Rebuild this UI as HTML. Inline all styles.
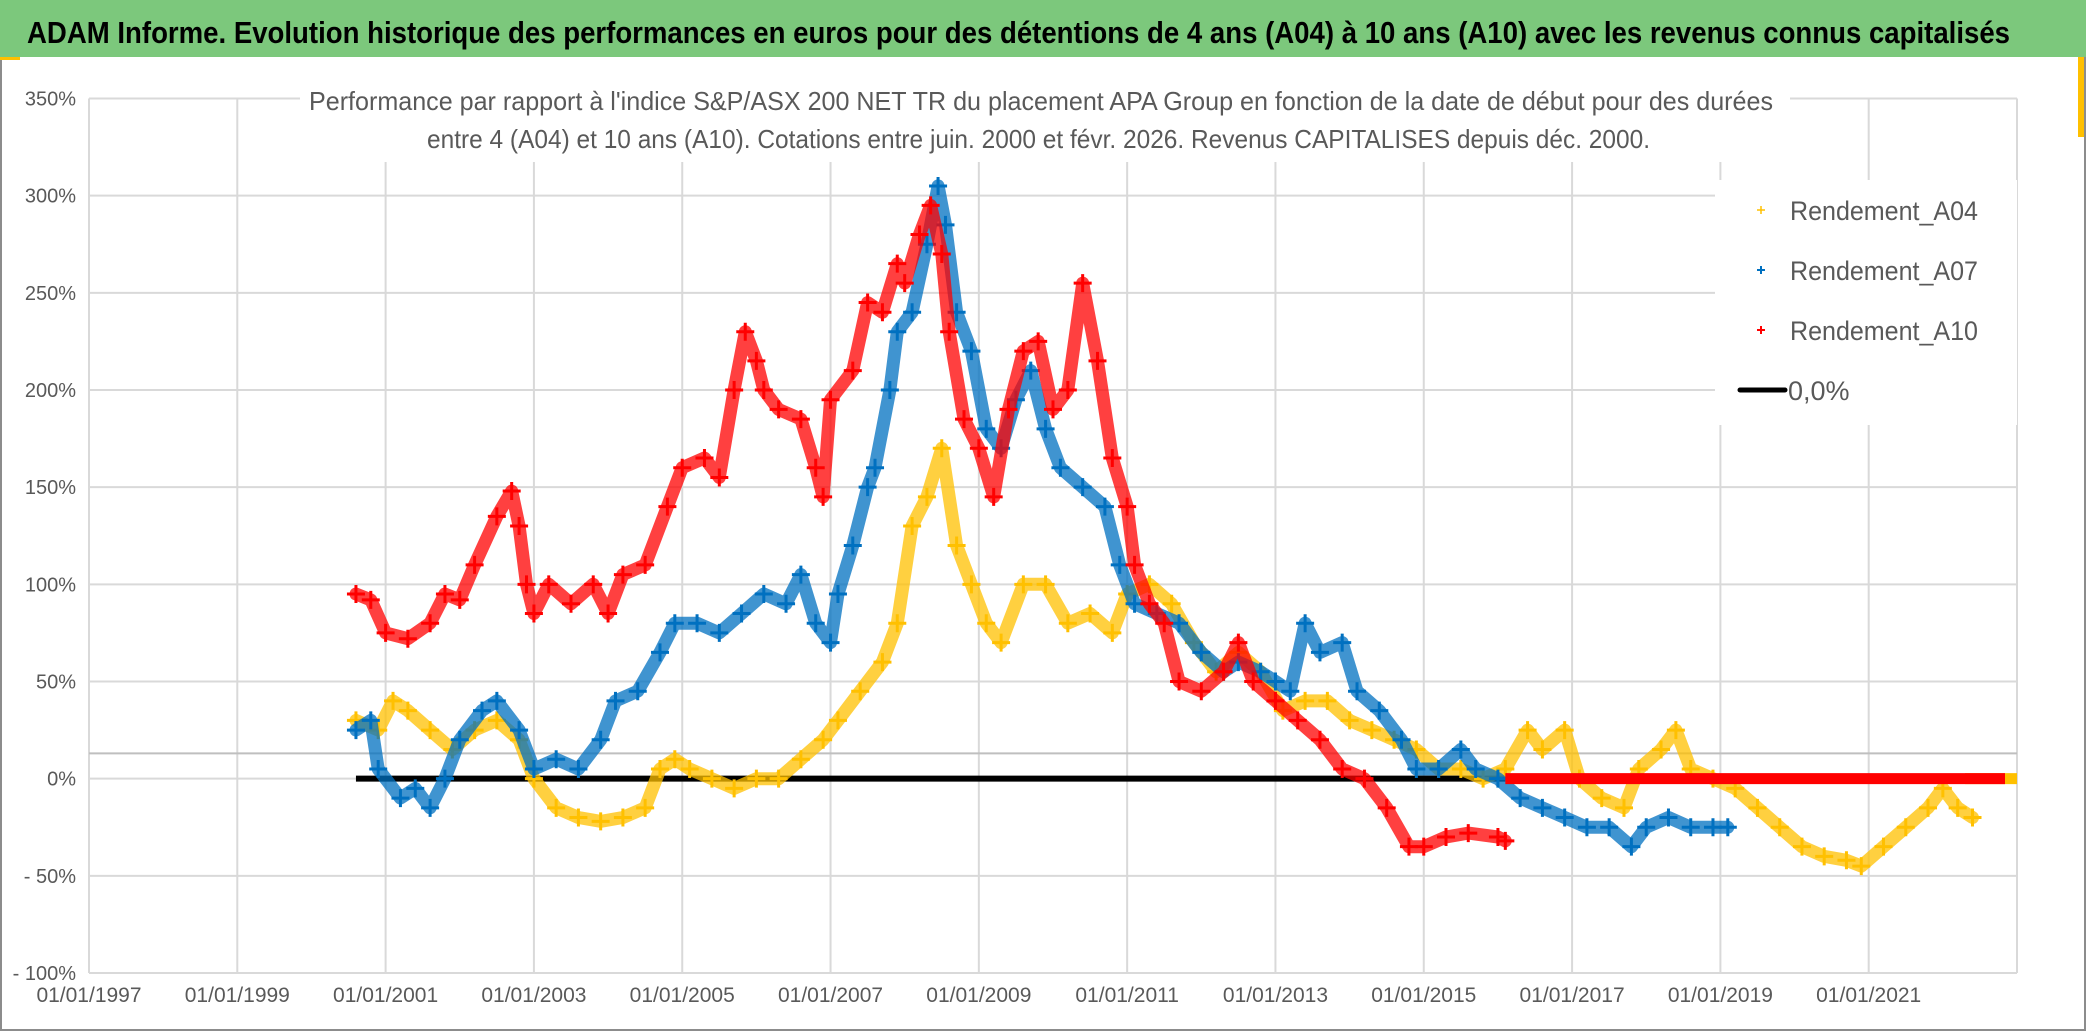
<!DOCTYPE html>
<html><head><meta charset="utf-8">
<style>
html,body{margin:0;padding:0;background:#fff;}
body{width:2086px;height:1031px;overflow:hidden;}
svg{display:block;}
text{font-family:"Liberation Sans Narrow","Liberation Sans",sans-serif;}
</style></head>
<body>
<svg id="chart" width="2086" height="1031" viewBox="0 0 2086 1031" xmlns="http://www.w3.org/2000/svg">
  <rect x="0" y="0" width="2086" height="1031" fill="#fff"/>
  <rect x="1" y="1" width="2084" height="1029" fill="none" stroke="#8c8c8c" stroke-width="2"/>
  <rect x="0" y="0" width="2086" height="57" fill="#7cc87c"/>
  <rect x="0" y="57" width="20" height="3" fill="#ffc000"/>
  <rect x="2078" y="57" width="6" height="80" fill="#ffc000"/>
  <text x="27" y="43" font-size="31" font-weight="bold" fill="#000" textLength="1983" lengthAdjust="spacingAndGlyphs">ADAM Informe. Evolution historique des performances en euros pour des détentions de 4 ans (A04) à 10 ans (A10) avec les revenus connus capitalisés</text>
  <g id="grid"></g>
  <g id="axes"></g>
  <g id="series"></g>
  <rect x="300" y="80" width="1490" height="82" fill="#fff"/>
  <text x="309" y="110" font-size="26" fill="#595959" textLength="1464" lengthAdjust="spacingAndGlyphs">Performance par rapport à l'indice S&amp;P/ASX 200 NET TR  du placement APA Group en fonction de la date de début pour des durées</text>
  <text x="427" y="148" font-size="26" fill="#595959" textLength="1223" lengthAdjust="spacingAndGlyphs">entre 4 (A04) et 10 ans (A10). Cotations entre juin. 2000 et févr. 2026. Revenus CAPITALISES depuis déc. 2000.</text>
  <g>
    <rect x="1715" y="180" width="302" height="245" fill="#fff"/>
    <g>
      <path d="M1757 210h8M1761 206v8" stroke="#ffc000" stroke-width="1.5"/>
      <text x="1790" y="220" font-size="27" fill="#595959" textLength="188" lengthAdjust="spacingAndGlyphs">Rendement_A04</text>
    </g>
    <g>
      <path d="M1757 270h8M1761 266v8" stroke="#0070c0" stroke-width="2"/>
      <text x="1790" y="280" font-size="27" fill="#595959" textLength="188" lengthAdjust="spacingAndGlyphs">Rendement_A07</text>
    </g>
    <g>
      <path d="M1757 330h8M1761 326v8" stroke="#ff0000" stroke-width="2"/>
      <text x="1790" y="340" font-size="27" fill="#595959" textLength="188" lengthAdjust="spacingAndGlyphs">Rendement_A10</text>
    </g>
    <g>
      <path d="M1740 390h45" stroke="#000" stroke-width="5" stroke-linecap="round"/>
      <text x="1788" y="400" font-size="27" fill="#595959">0,0%</text>
    </g>
  </g>
</svg>
<script>
const yTicks = [350,300,250,200,150,100,50,0,-50,-100];
const yTickLabels = ["350%","300%","250%","200%","150%","100%","50%","0%","- 50%","- 100%"];
const xTicks = [1997,1999,2001,2003,2005,2007,2009,2011,2013,2015,2017,2019,2021,2023];
const xTickLabels = ["01/01/1997","01/01/1999","01/01/2001","01/01/2003","01/01/2005","01/01/2007","01/01/2009","01/01/2011","01/01/2013","01/01/2015","01/01/2017","01/01/2019","01/01/2021",""];
const refLineValue = 13;

const a10Dates = [2000.6,2000.8,2001.0,2001.3,2001.6,2001.8,2002.0,2002.2,2002.5,2002.7,2002.8,2002.9,2003.0,2003.2,2003.5,2003.8,2004.0,2004.2,2004.5,2004.8,2005.0,2005.3,2005.5,2005.7,2005.85,2006.0,2006.1,2006.3,2006.6,2006.8,2006.9,2007.0,2007.3,2007.5,2007.7,2007.9,2008.0,2008.2,2008.35,2008.5,2008.6,2008.8,2009.0,2009.2,2009.4,2009.6,2009.8,2010.0,2010.2,2010.4,2010.6,2010.8,2011.0,2011.1,2011.3,2011.5,2011.7,2012.0,2012.3,2012.5,2012.7,2013.0,2013.3,2013.6,2013.9,2014.2,2014.5,2014.8,2015.0,2015.3,2015.6,2016.0,2016.1];
const a10Values = [95,92,75,72,80,95,92,110,135,148,130,100,85,100,90,100,85,105,110,140,160,165,155,200,230,215,200,190,185,160,145,195,210,245,240,265,255,280,295,270,230,185,170,145,190,220,225,190,200,255,215,165,140,110,90,80,50,45,55,70,50,40,30,20,5,0,-15,-35,-35,-30,-28,-30,-32];

const a07Dates = [2000.6,2000.8,2000.9,2001.2,2001.4,2001.6,2001.8,2002.0,2002.3,2002.5,2002.8,2003.0,2003.3,2003.6,2003.9,2004.1,2004.4,2004.7,2004.9,2005.2,2005.5,2005.8,2006.1,2006.4,2006.6,2006.8,2007.0,2007.1,2007.3,2007.5,2007.6,2007.8,2007.9,2008.1,2008.3,2008.45,2008.55,2008.7,2008.9,2009.1,2009.3,2009.5,2009.7,2009.9,2010.1,2010.4,2010.7,2010.9,2011.1,2011.4,2011.7,2012.0,2012.3,2012.5,2012.8,2013.0,2013.2,2013.4,2013.6,2013.9,2014.1,2014.4,2014.7,2014.9,2015.2,2015.5,2015.7,2016.0,2016.3,2016.6,2016.9,2017.2,2017.5,2017.8,2018.0,2018.3,2018.6,2018.9,2019.1];
const a07Values = [25,30,5,-10,-5,-15,0,20,35,40,25,5,10,5,20,40,45,65,80,80,75,85,95,90,105,80,70,95,120,150,160,200,230,240,275,305,285,240,220,180,170,195,210,180,160,150,140,110,90,85,80,65,55,60,55,50,45,80,65,70,45,35,20,5,5,15,5,0,-10,-15,-20,-25,-25,-35,-25,-20,-25,-25,-25];

const a04Dates = [2000.6,2000.9,2001.1,2001.3,2001.6,2001.9,2002.2,2002.5,2002.8,2003.0,2003.3,2003.6,2003.9,2004.2,2004.5,2004.7,2004.9,2005.1,2005.4,2005.7,2006.0,2006.3,2006.6,2006.9,2007.1,2007.4,2007.7,2007.9,2008.1,2008.3,2008.5,2008.7,2008.9,2009.1,2009.3,2009.6,2009.9,2010.2,2010.5,2010.8,2011.0,2011.3,2011.6,2011.9,2012.2,2012.5,2012.8,2013.1,2013.4,2013.7,2014.0,2014.3,2014.6,2014.9,2015.2,2015.5,2015.8,2016.1,2016.4,2016.6,2016.9,2017.1,2017.4,2017.7,2017.9,2018.2,2018.4,2018.6,2018.9,2019.2,2019.5,2019.8,2020.1,2020.4,2020.7,2020.9,2021.2,2021.5,2021.8,2022.0,2022.2,2022.4];
const a04Values = [30,25,40,35,25,15,25,30,20,0,-15,-20,-22,-20,-15,5,10,5,0,-5,0,0,10,20,30,45,60,80,130,145,170,120,100,80,70,100,100,80,85,75,95,100,90,70,55,65,55,35,40,40,30,25,20,15,5,5,0,5,25,15,25,0,-10,-15,5,15,25,5,0,-5,-15,-25,-35,-40,-42,-45,-35,-25,-15,-5,-15,-20];

const zeroBlackRange = [2000.6, 2016.1];
const zeroRedRange = [2016.1, 2023.0];
const zeroYellowRange = [2022.3, 2023.0];

const NS = "http://www.w3.org/2000/svg";
const X0 = 89, X1 = 2017, Y0 = 98.5, Y1 = 973;
function xs(yr){ return X0 + (yr - 1997) / (2023 - 1997) * (X1 - X0); }
function ys(v){ return Y0 + (350 - v) / 450 * (Y1 - Y0); }
function mk(tag, attrs, parent){
  const e = document.createElementNS(NS, tag);
  for (const k in attrs) e.setAttribute(k, attrs[k]);
  parent.appendChild(e);
  return e;
}
const grid = document.getElementById('grid');
const axes = document.getElementById('axes');
const series = document.getElementById('series');

yTicks.forEach((v, i) => {
  const l = mk('line', {x1:X0, x2:X1, y1:ys(v), y2:ys(v), stroke:'#d9d9d9', 'stroke-width':2}, grid);
  
  
  const t = mk('text', {x:76, y:ys(v)+7, 'font-size':20, fill:'#595959', 'text-anchor':'end'}, axes);
  t.textContent = yTickLabels[i];
  
  
});
xTicks.forEach((yr, i) => {
  const l = mk('line', {x1:xs(yr), x2:xs(yr), y1:Y0, y2:Y1, stroke:'#d9d9d9', 'stroke-width':2}, grid);
  
  
  const t = mk('text', {x:xs(yr), y:1002, 'font-size':21, fill:'#595959', 'text-anchor':'middle'}, axes);
  t.textContent = xTickLabels[i];
  
  
});
const ref = mk('line', {x1:X0, x2:X1, y1:ys(refLineValue), y2:ys(refLineValue), stroke:'#bfbfbf', 'stroke-width':2}, grid);



const zb = mk('line', {x1:xs(zeroBlackRange[0]), x2:xs(zeroBlackRange[1]), y1:ys(0), y2:ys(0), stroke:'#000', 'stroke-width':6}, series);



function drawSeries(dates, vals, color, name){
  const g = mk('g', {}, series);
  
  
  const pts = dates.map((d, i) => xs(d).toFixed(1) + ',' + ys(vals[i]).toFixed(1)).join(' ');
  const pl = mk('polyline', {points:pts, fill:'none', stroke:color, 'stroke-width':13, 'stroke-linejoin':'round', 'stroke-linecap':'round', opacity:0.75}, g);
  
  
  dates.forEach((d, i) => {
    const x = xs(d), y = ys(vals[i]);
    const p = mk('path', {d:`M${x-9} ${y}h18M${x} ${y-9}v18`, stroke:color, 'stroke-width':3}, g);
    
    
  });
}
drawSeries(a04Dates, a04Values, '#ffc000', 'series-a04');
drawSeries(a07Dates, a07Values, '#0070c0', 'series-a07');
drawSeries(a10Dates, a10Values, '#ff0000', 'series-a10');

const zy = mk('line', {x1:xs(zeroYellowRange[0]), x2:xs(zeroYellowRange[1]), y1:ys(0), y2:ys(0), stroke:'#ffc000', 'stroke-width':11}, series);


const zr = mk('line', {x1:xs(zeroRedRange[0]), x2:xs(zeroRedRange[1]) - 12, y1:ys(0), y2:ys(0), stroke:'#ff0000', 'stroke-width':11}, series);


</script>
</body></html>
